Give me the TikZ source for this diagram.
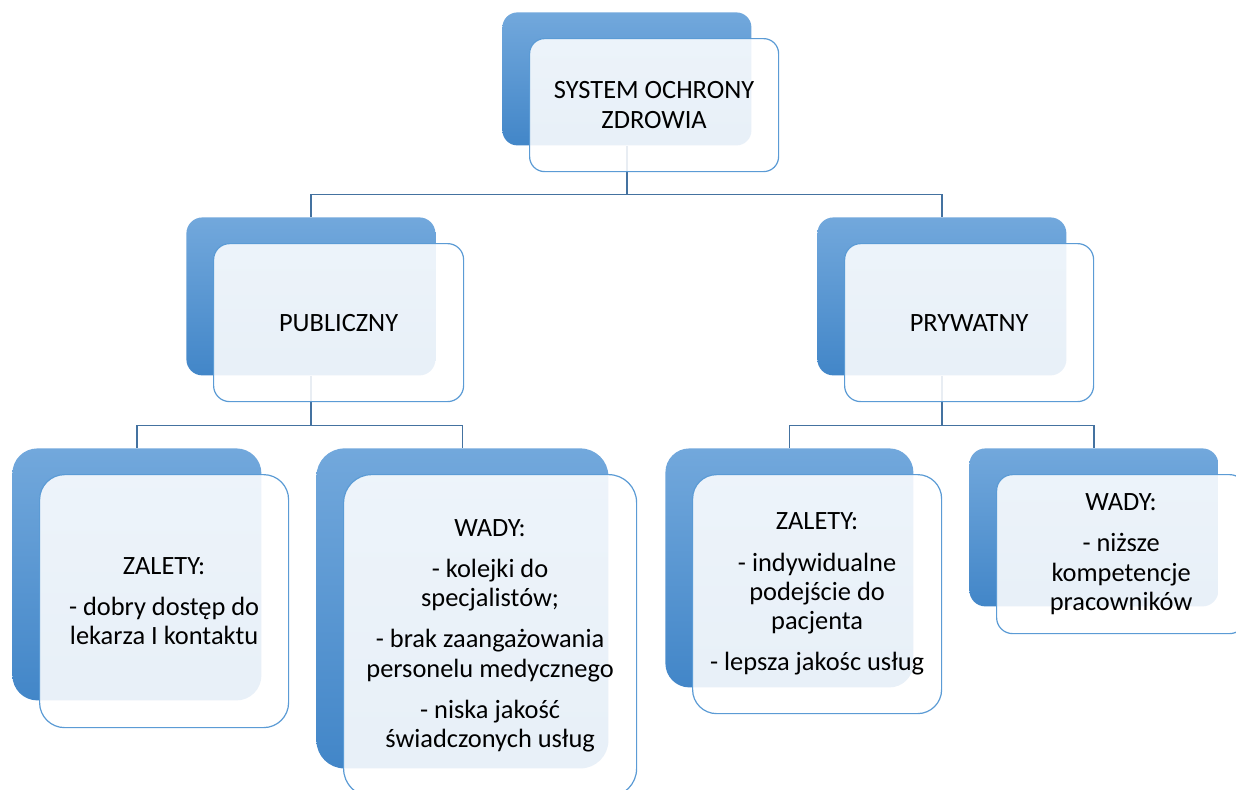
\documentclass[tikz,border=0pt]{standalone}
\usepackage{fontspec}
\setmainfont{Carlito}
\definecolor{BoxTop}{RGB}{114,168,220}
\definecolor{BoxBottom}{RGB}{66,134,200}
\definecolor{EdgeBlue}{RGB}{91,155,213}
\definecolor{LinkBlue}{RGB}{68,114,160}
\usetikzlibrary{positioning, backgrounds}

\tikzset{
  backbox/.style={rectangle, inner sep=0pt, anchor=north west, top color=BoxTop, bottom color=BoxBottom, draw=none},
  frontbox/.style={rectangle, inner sep=2pt, draw=EdgeBlue, line width=0.6pt, fill=white, fill opacity=0.88, text opacity=1, align=center, font=\fontsize{13.2}{14.6}\selectfont, below right=13pt and 13.5pt of #1},
  link/.style={draw=LinkBlue, line width=0.6pt}
}

\begin{document}
\begin{tikzpicture}[x=0.5pt, y=-0.5pt]
            \useasboundingbox (0,0) rectangle (1236,789);

            % top level
            \node[backbox, minimum width=124.5pt, minimum height=66.5pt, rounded corners=7.5pt] (sysB) at (502,12) {};
            \node[frontbox=sysB.north west, minimum width=124.5pt, minimum height=66.5pt, rounded corners=7.5pt] (sys) {SYSTEM OCHRONY\\ZDROWIA};

            % second level
            \node[backbox, minimum width=124.5pt, minimum height=79pt, rounded corners=8pt] (pubB) at (186,217) {};
            \node[frontbox=pubB.north west, minimum width=125pt, minimum height=79pt, rounded corners=8pt] (pub) {PUBLICZNY};
            \node[backbox, minimum width=124.5pt, minimum height=79pt, rounded corners=8pt] (prywB) at (817,217) {};
            \node[frontbox=prywB.north west, minimum width=124.5pt, minimum height=79pt, rounded corners=8pt] (pryw) {PRYWATNY};

            % third level
            \node[backbox, minimum width=124.5pt, minimum height=126pt, rounded corners=12.5pt] (zalPubB) at (12,448) {};
            \node[frontbox=zalPubB.north west, minimum width=124.5pt, minimum height=126.5pt, rounded corners=12.5pt] (zalPub) {ZALETY:\\[6pt]- dobry dostęp do\\lekarza I kontaktu};
            \node[backbox, minimum width=146pt, minimum height=160pt, rounded corners=14pt] (wadPubB) at (316,448) {};
            \node[frontbox=wadPubB.north west, minimum width=146.5pt, minimum height=161pt, rounded corners=14pt] (wadPub) {WADY:\\[6pt]- kolejki do\\specjalistów;\\[6pt]- brak zaangażowania\\personelu medycznego\\[6pt]- niska jakość\\świadczonych usług};
            \node[backbox, minimum width=124pt, minimum height=119.5pt, rounded corners=12pt] (zalPrywB) at (665,448) {};
            \node[frontbox=zalPrywB.north west, minimum width=124.5pt, minimum height=119.5pt, rounded corners=12pt] (zalPryw) {ZALETY:\\[6pt]- indywidualne\\podejście do\\pacjenta\\[6pt]- lepsza jakośc usług};
            \node[backbox, minimum width=124.5pt, minimum height=79pt, rounded corners=8pt] (wadPrywB) at (969,448) {};
            \node[frontbox=wadPrywB.north west, minimum width=124.5pt, minimum height=79.5pt, rounded corners=8pt] (wadPryw) {WADY:\\[6pt]- niższe\\kompetencje\\pracowników};

            % connectors behind the boxes
            \begin{scope}[on background layer]
                \draw[link] (sysB.south) -- ++(0,49) -| (pubB.north);
                \draw[link] (sysB.south) -- ++(0,49) -| (prywB.north);
                \draw[link] (pubB.south) -- ++(0,50) -| (zalPubB.north);
                \draw[link] (pubB.south) -- ++(0,50) -| (wadPubB.north);
                \draw[link] (prywB.south) -- ++(0,50) -| (zalPrywB.north);
                \draw[link] (prywB.south) -- ++(0,50) -| (wadPrywB.north);
            \end{scope}
        \end{tikzpicture}
\end{document}
